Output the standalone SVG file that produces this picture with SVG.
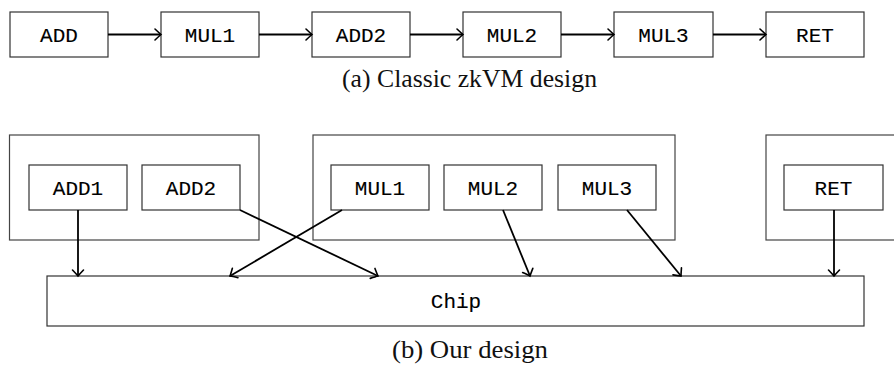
<svg xmlns="http://www.w3.org/2000/svg" width="894" height="366" viewBox="0 0 894 366">
  <style>
    .box { fill: #fff; stroke: #333; stroke-width: 1.2; }
    .grp { fill: none; stroke: #444; stroke-width: 1.2; }
    .lbl { font-family: "Liberation Mono", "DejaVu Sans Mono", monospace; font-size: 21px; fill: #000; stroke: #000; stroke-width: 0.12; text-anchor: middle; }
    .cap { font-family: "Liberation Serif", "DejaVu Serif", serif; font-size: 25px; fill: #111; text-anchor: middle; }
    .edge { fill: none; stroke: #000; stroke-width: 1.8; marker-end: url(#arr); }
  </style>
  <defs>
    <marker id="arr" markerUnits="userSpaceOnUse" markerWidth="16" markerHeight="16" viewBox="-8 -8 10 16" refX="0" refY="0" orient="auto" overflow="visible">
      <path d="M -6 -5.5 Q -1.8 -1.5 0 0 Q -1.8 1.5 -6 5.5" fill="none" stroke="#000" stroke-width="1.6" stroke-linecap="round"/>
    </marker>
  </defs>

  <!-- (a) Classic zkVM design -->
  <g id="a-add"><rect class="box" x="10" y="12" width="98" height="45"/><text class="lbl" x="59" y="41.5">ADD</text></g>
  <g id="a-mul1"><rect class="box" x="161" y="12" width="98" height="45"/><text class="lbl" x="210" y="41.5">MUL1</text></g>
  <g id="a-add2"><rect class="box" x="312" y="12" width="98" height="45"/><text class="lbl" x="361" y="41.5">ADD2</text></g>
  <g id="a-mul2"><rect class="box" x="463" y="12" width="98" height="45"/><text class="lbl" x="512" y="41.5">MUL2</text></g>
  <g id="a-mul3"><rect class="box" x="614" y="12" width="99" height="45"/><text class="lbl" x="663.5" y="41.5">MUL3</text></g>
  <g id="a-ret"><rect class="box" x="766" y="12" width="98" height="45"/><text class="lbl" x="815" y="41.5">RET</text></g>
  <text id="cap-a" class="cap" x="469.5" y="87" textLength="255" lengthAdjust="spacingAndGlyphs">(a) Classic zkVM design</text>

  <!-- (b) Our design -->
  <g id="grp-add"><rect class="grp" x="9.5" y="135" width="249.5" height="105"/></g>
  <g id="grp-mul"><rect class="grp" x="313" y="135" width="362" height="105"/></g>
  <g id="grp-ret"><rect class="grp" x="766" y="135" width="140" height="105"/></g>

  <g id="b-add1"><rect class="box" x="29" y="165" width="98" height="45"/><text class="lbl" x="78" y="194.5">ADD1</text></g>
  <g id="b-add2"><rect class="box" x="142" y="165" width="98" height="45"/><text class="lbl" x="191" y="194.5">ADD2</text></g>
  <g id="b-mul1"><rect class="box" x="331" y="165" width="98" height="45"/><text class="lbl" x="380" y="194.5">MUL1</text></g>
  <g id="b-mul2"><rect class="box" x="444" y="165" width="98" height="45"/><text class="lbl" x="493" y="194.5">MUL2</text></g>
  <g id="b-mul3"><rect class="box" x="558" y="165" width="98" height="45"/><text class="lbl" x="607" y="194.5">MUL3</text></g>
  <g id="b-ret"><rect class="box" x="784" y="165" width="99" height="45"/><text class="lbl" x="833.5" y="194.5">RET</text></g>

  <g id="chip"><rect class="box" x="47" y="276" width="817" height="50"/><text class="lbl" x="456" y="307.5">Chip</text></g>
  <text id="cap-b" class="cap" x="470" y="358" textLength="156" lengthAdjust="spacingAndGlyphs">(b) Our design</text>

  <g id="connectors">
    <line class="edge" x1="108" y1="34.5" x2="161" y2="34.5"/>
    <line class="edge" x1="259" y1="34.5" x2="312" y2="34.5"/>
    <line class="edge" x1="410" y1="34.5" x2="463" y2="34.5"/>
    <line class="edge" x1="561" y1="34.5" x2="614" y2="34.5"/>
    <line class="edge" x1="713" y1="34.5" x2="766" y2="34.5"/>

    <line class="edge" x1="78" y1="210" x2="78" y2="276"/>
    <line class="edge" x1="240" y1="210" x2="378" y2="276"/>
    <line class="edge" x1="342" y1="210" x2="230" y2="276"/>
    <line class="edge" x1="503" y1="210" x2="530" y2="276"/>
    <line class="edge" x1="627" y1="210" x2="681" y2="276"/>
    <line class="edge" x1="834" y1="210" x2="834" y2="276"/>
  </g>
</svg>
